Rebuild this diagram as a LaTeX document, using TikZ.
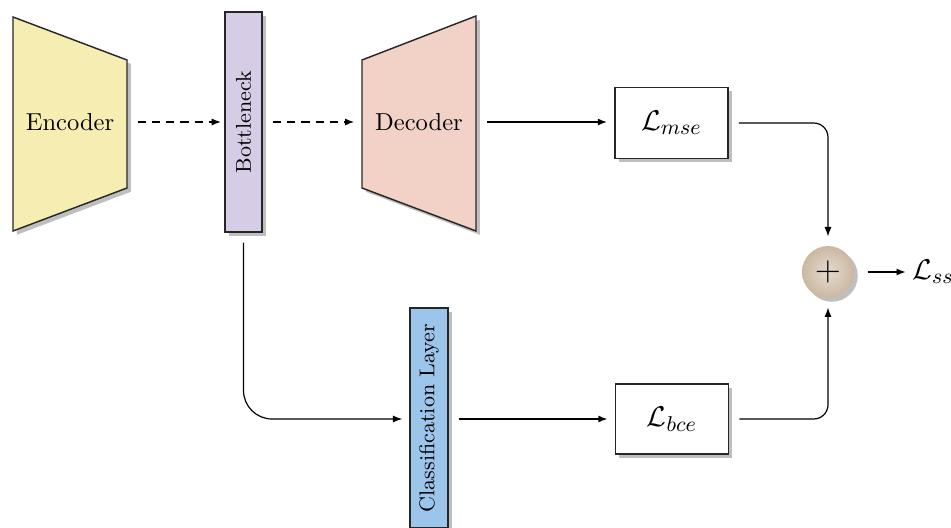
\documentclass[tikz,border=0pt]{standalone}
\usetikzlibrary{arrows.meta,shadows}
\definecolor{encY}{HTML}{F6EDB3}
\definecolor{botP}{HTML}{D6CCE6}
\definecolor{decP}{HTML}{F2D2C7}
\definecolor{clsB}{HTML}{9CC5EB}
\definecolor{sumIn}{HTML}{E6DACD}
\definecolor{sumOut}{HTML}{CBB8A3}
\newcommand{\lossfont}{\fontsize{13}{15}\selectfont}
\begin{document}
\begin{tikzpicture}[x=0.42pt,y=-0.42pt,
  shad/.style={drop shadow={shadow xshift=1.6pt,shadow yshift=-1.6pt,opacity=0.5}},
  block/.style={draw=black!85, line width=0.6pt, shad},
  ghost/.style={inner sep=0pt},
  dasharrow/.style={-{Latex[length=4pt,width=3pt]}, line width=0.8pt, dash pattern=on 3.5pt off 2.5pt},
  mainarrow/.style={-{Latex[length=4pt,width=3pt]}, line width=0.9pt},
  thinarrow/.style={-{Latex[length=4pt,width=3pt]}, line width=0.5pt}
]
\useasboundingbox (0,0) rectangle (951,528);

% Encoder
\draw[block, fill=encY] (13,17) -- (127,60) -- (127,188) -- (13,231) -- cycle;
\node[ghost, minimum width=47.9pt, minimum height=89.9pt] (enc) at (70,122) {\fontsize{10.3}{12}\selectfont Encoder};

% Bottleneck
\node[block, fill=botP, minimum width=15.5pt, minimum height=92.4pt, inner sep=0pt] (bot) at (243.5,122) {};
\node[rotate=90] at (bot) {\small Bottleneck};

% Decoder
\draw[block, fill=decP] (362,60) -- (476,16) -- (476,231) -- (362,188) -- cycle;
\node[ghost, minimum width=47.9pt, minimum height=89.9pt] (dec) at (419,122) {\fontsize{10.3}{12}\selectfont Decoder};

% Classification layer
\node[block, fill=clsB, minimum width=16pt, minimum height=92.4pt, inner sep=0pt] (cls) at (429,418) {};
\node[rotate=90] at (cls) {\small Classification Layer};

% Loss boxes
\node[block, fill=white, minimum width=47.5pt, minimum height=29.8pt, inner sep=0pt] (lmse) at (671.5,123) {\lossfont $\mathcal{L}_{mse}$};
\node[block, fill=white, minimum width=47.5pt, minimum height=29.5pt, inner sep=0pt] (lbce) at (672,419) {\lossfont $\mathcal{L}_{bce}$};

% Sum
\node[circle, draw=none, inner color=sumIn, outer color=sumOut, minimum size=21.8pt, inner sep=0pt, shad, text=black] (sum) at (828,272) {\Large $+$};

% Output
\node[anchor=west, inner sep=0pt] (lss) at (912,272) {\lossfont $\mathcal{L}_{ss}$};

% Connectors
\draw[dasharrow, shorten <=4.2pt, shorten >=1.3pt] (enc.east) -- (enc.east -| bot.west);
\draw[dasharrow, shorten <=4.2pt, shorten >=2.9pt] (bot.east) -- (bot.east -| dec.west);
\draw[mainarrow, shorten <=4.6pt, shorten >=2.9pt] (dec.east) -- (dec.east -| lmse.west);
\draw[thinarrow, rounded corners=6pt, shorten <=4.2pt, shorten >=3.8pt] (lmse.east) -- (lmse.east -| sum.north) -- (sum.north);
\draw[thinarrow, rounded corners=12pt, shorten <=4.2pt, shorten >=2.9pt] (bot.south) -- (bot.south |- lbce.west) -- (cls.west |- lbce.west);
\draw[mainarrow, shorten <=4.2pt, shorten >=2.9pt] (cls.east |- lbce.west) -- (lbce.west);
\draw[thinarrow, rounded corners=6pt, shorten <=4.2pt, shorten >=3.8pt] (lbce.east) -- (lbce.east -| sum.south) -- (sum.south);
\draw[mainarrow, shorten <=5.5pt, shorten >=2.5pt] (sum.east) -- (lss.west);
\end{tikzpicture}
\end{document}
